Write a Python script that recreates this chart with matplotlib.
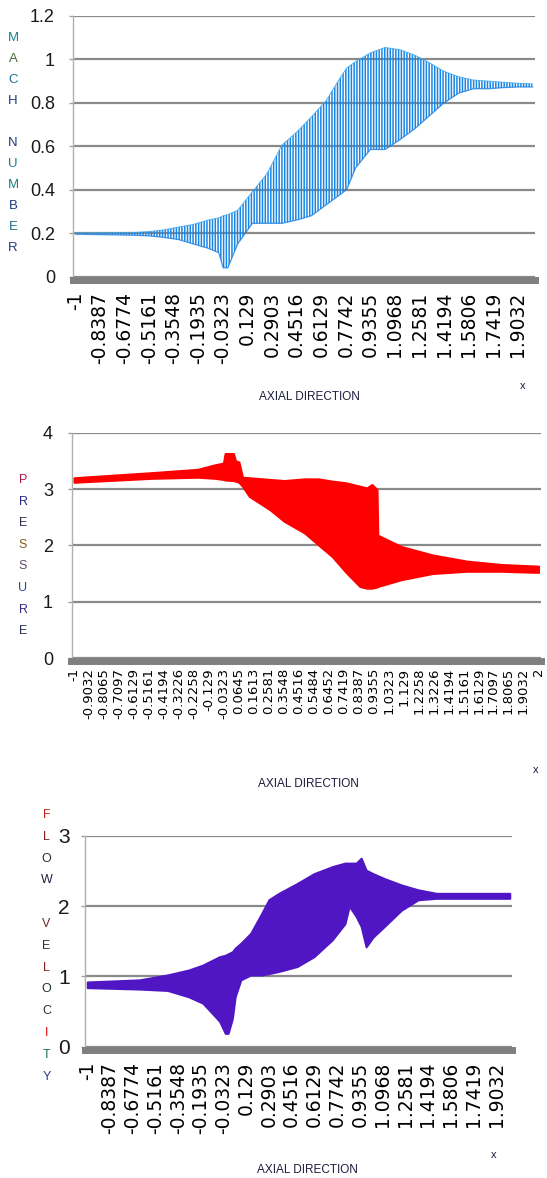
import numpy as np
import matplotlib
matplotlib.use('Agg')
from matplotlib import pyplot as plt
from matplotlib.ticker import FuncFormatter

# ---- data --------------------------------------------------------------------
# mach number: lower / upper envelope of the oscillating series
mach_x = [-1.0, -0.6129, -0.5161, -0.4194, -0.3226, -0.2258, -0.129, -0.06, -0.03, 0.0,
          0.0645, 0.1613, 0.2581, 0.3548, 0.4516, 0.5484, 0.6452, 0.7419, 0.78, 0.8387,
          0.9355, 1.0323, 1.129, 1.2258, 1.3226, 1.4194, 1.5161, 1.6129, 1.7097, 1.8065,
          1.9032, 2.0]
mach_upper = [0.200, 0.203, 0.207, 0.215, 0.228, 0.240, 0.260, 0.270, 0.280, 0.285,
              0.305, 0.390, 0.475, 0.605, 0.665, 0.735, 0.810, 0.920, 0.960, 0.990,
              1.030, 1.055, 1.045, 1.020, 0.985, 0.945, 0.920, 0.905, 0.900, 0.895,
              0.890, 0.887]
mach_lower = [0.195, 0.190, 0.187, 0.180, 0.170, 0.150, 0.130, 0.110, 0.040, 0.040,
              0.150, 0.245, 0.245, 0.245, 0.260, 0.280, 0.330, 0.380, 0.400, 0.500,
              0.585, 0.585, 0.630, 0.680, 0.740, 0.800, 0.845, 0.865, 0.865, 0.870,
              0.873, 0.873]

# pressure
pres_x = [-1.0, -0.5, -0.2, -0.09, -0.035, -0.024, 0.03, 0.043, 0.065, 0.088, 0.132,
          0.267, 0.356, 0.489, 0.578, 0.668, 0.757, 0.846, 0.891, 0.924, 0.957, 0.962,
          1.113, 1.314, 1.537, 1.76, 2.0]
pres_upper = [3.20, 3.29, 3.35, 3.43, 3.46, 3.63, 3.63, 3.50, 3.48, 3.21, 3.20, 3.17,
              3.15, 3.18, 3.18, 3.14, 3.11, 3.05, 3.02, 3.08, 2.99, 2.18, 1.98, 1.83,
              1.72, 1.66, 1.63]
pres_lower = [3.12, 3.19, 3.21, 3.19, 3.17, 3.16, 3.15, 3.14, 3.12, 3.05, 2.87, 2.63,
              2.43, 2.22, 2.01, 1.80, 1.52, 1.27, 1.24, 1.24, 1.26, 1.27, 1.39, 1.50,
              1.54, 1.54, 1.52]

# flow velocity
vel_x = [-1.0, -0.63, -0.43, -0.28, -0.18, -0.11, -0.06, -0.02, 0.0, 0.03, 0.05, 0.09,
         0.16, 0.24, 0.29, 0.36, 0.49, 0.61, 0.74, 0.83, 0.86, 0.91, 0.945, 0.98, 1.03,
         1.11, 1.23, 1.35, 1.48, 2.0]
vel_upper = [0.92, 0.95, 1.02, 1.09, 1.16, 1.23, 1.28, 1.30, 1.32, 1.35, 1.40, 1.47,
             1.61, 1.90, 2.09, 2.18, 2.32, 2.46, 2.56, 2.61, 2.61, 2.61, 2.68, 2.51,
             2.46, 2.39, 2.30, 2.23, 2.18, 2.18]
vel_lower = [0.84, 0.82, 0.80, 0.71, 0.62, 0.47, 0.36, 0.19, 0.19, 0.40, 0.71, 0.95,
             1.02, 1.02, 1.04, 1.07, 1.14, 1.28, 1.52, 1.75, 2.00, 1.85, 1.71, 1.42,
             1.56, 1.71, 1.94, 2.09, 2.11, 2.11]

# category tick labels
labels_5 = ['-1', '-0.8387', '-0.6774', '-0.5161', '-0.3548', '-0.1935', '-0.0323',
            '0.129', '0.2903', '0.4516', '0.6129', '0.7742', '0.9355', '1.0968',
            '1.2581', '1.4194', '1.5806', '1.7419', '1.9032']
labels_3 = ['-1', '-0.9032', '-0.8065', '-0.7097', '-0.6129', '-0.5161', '-0.4194',
            '-0.3226', '-0.2258', '-0.129', '-0.0323', '0.0645', '0.1613', '0.2581',
            '0.3548', '0.4516', '0.5484', '0.6452', '0.7419', '0.8387', '0.9355',
            '1.0323', '1.129', '1.2258', '1.3226', '1.4194', '1.5161', '1.6129',
            '1.7097', '1.8065', '1.9032', '2']

# ---- figure ---------------------------------------------------------------------
W, H = 547, 1178
NARROW = ['Liberation Sans Narrow', 'Liberation Sans', 'DejaVu Sans']
plt.rcParams['hatch.linewidth'] = 1.1

fig = plt.figure(figsize=(W / 100, H / 100), dpi=100)
half = 3 / 93 / 2  # half a category


def panel(left, right, top, bottom, ymax, ystep, labels, ypad, xpad, ysize, xsize):
    ax = fig.add_axes([left / W, 1 - bottom / H, (right - left) / W, (bottom - top) / H])
    ax.set_xlim(-1 - half, 2 + half)
    ax.set_ylim(0, ymax)
    ax.set_yticks(np.arange(0, ymax + 1e-9, ystep))
    ax.yaxis.set_major_formatter(FuncFormatter(lambda v, p: '%g' % round(v, 2)))
    ax.yaxis.grid(True, color='#8a8a8a', lw=1.6)
    ax.set_axisbelow(True)
    ax.spines['top'].set_visible(False)
    ax.spines['right'].set_visible(False)
    ax.spines['left'].set_color('#b0b0b0')
    ax.spines['left'].set_linewidth(1.0)
    ax.spines['bottom'].set_color('#7f7f7f')
    ax.spines['bottom'].set_linewidth(5)
    ax.spines['bottom'].set_position(('outward', 2.5))
    ax.set_xticks([float(t) for t in labels])
    ax.set_xticklabels(labels, rotation=90, fontsize=xsize, family='DejaVu Sans')
    ax.tick_params(axis='x', length=0, pad=xpad)
    ax.tick_params(axis='y', length=3, width=1, color='#a0a0a0', pad=ypad)
    for t in ax.get_yticklabels():
        t.set_family(NARROW)
        t.set_fontsize(ysize)
        t.set_color('#1a1a1a')
    return ax


def side_letters(word, x, y0, step, colors, size):
    for i, (ch, c) in enumerate(zip(word, colors)):
        if ch == ' ':
            continue
        fig.text(x / W, 1 - (y0 + i * step) / H, ch, ha='center', va='center',
                 color=c, fontsize=size, family=NARROW)


def axial(xc, yc, xx, yx):
    fig.text(xc / W, 1 - yc / H, 'AXIAL DIRECTION', ha='center', va='center',
             fontsize=8.5, family=NARROW, color='#1c1c3c')
    fig.text(xx / W, 1 - yx / H, 'x', ha='center', va='center',
             fontsize=8, family=NARROW, color='#1c1c3c')


# ---- mach number ---
ax1 = panel(73, 535, 16, 276.5, 1.2, 0.2, labels_5, ypad=10, xpad=8.6, ysize=13, xsize=13.5)
ax1.fill_between(mach_x, mach_lower, mach_upper, facecolor='none',
                 edgecolor='#1a86e4', hatch='||||||', linewidth=0)
ax1.plot(mach_x, mach_upper, color='#3aa6ee', lw=0.7, alpha=0.8)
ax1.plot(mach_x, mach_lower, color='#1a7fe0', lw=0.9, alpha=0.8)
side_letters('MACH NUMBER', 13, 38, 21,
             ['#17808c', '#4a6a3a', '#1d6f9a', '#1d3c7a', None, '#1d3c7a',
              '#17808c', '#1a7f80', '#1d3c7a', '#1a6e8a', '#1d3c7a'], 9.5)
axial(309, 397, 523, 386)

# ---- pressure ---
ax2 = panel(71.5, 541, 432.7, 658, 4, 1, labels_3, ypad=10.4, xpad=4.7, ysize=13, xsize=9.5)
ax2.fill_between(pres_x, pres_lower, pres_upper, facecolor='#ff0000',
                 edgecolor='#ff0000', linewidth=1.5)
side_letters('PRESSURE', 23, 480, 21.6,
             ['#b0184a', '#2a2a8a', '#303050', '#8a5a1a', '#5a4a6a', '#2a4aa0',
              '#3a2a8a', '#2a3050'], 9)
axial(308, 784, 536, 770)

# ---- flow velocity ---
ax3 = panel(85, 512, 835.7, 1046.7, 3, 1, labels_5, ypad=8, xpad=8.5, ysize=15, xsize=13.5)
ax3.fill_between(vel_x, vel_lower, vel_upper, facecolor='#5016c3',
                 edgecolor='#5016c3', linewidth=1.5)
side_letters('FLOW VELOCITY', 46.5, 815, 21.8,
             ['#d02020', '#802020', '#303020', '#202040', None, '#6a2a20', '#303030',
              '#802020', '#203030', '#303040', '#e01010', '#207060', '#2a3a8a'], 9)
axial(307, 1170, 494, 1155)

fig.savefig('out.png', dpi=100)
